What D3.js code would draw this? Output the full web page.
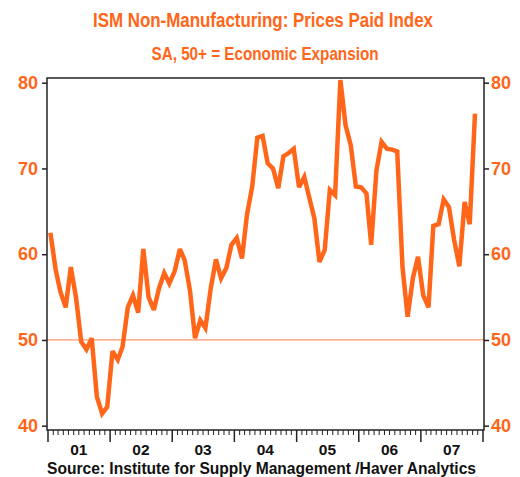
<!DOCTYPE html>
<html lang="en">
<head>
	<meta charset="UTF-8">
	<title>ISM Non-Manufacturing: Prices Paid Index</title>
	<script src="https://cdnjs.cloudflare.com/ajax/libs/d3/7.8.5/d3.min.js"></script>
	<style>
		html, body{
		  margin: 0;
		  padding: 0;
		  background: #fff;
		}
		svg{
		  display: block;
		  font-family: "Liberation Sans Narrow", "Liberation Sans", Arial, sans-serif;
		}
	</style>
</head>
<body>
	<div class="chartDiv"></div>

	<script>
		// monthly values, Jan 2001 .. Nov 2007
		var startYear = 2001;
		var values2001 = [62.5, 58.2, 55.6, 53.8, 58.5, 54.9, 49.8, 48.9, 50.2, 43.4, 41.4, 42.2];
		var values2002 = [48.7, 47.7, 49.2, 53.8, 55.2, 53.2, 60.6, 55.0, 53.5, 56.0, 57.8, 56.6];
		var values2003 = [58.0, 60.6, 59.3, 55.8, 50.2, 52.3, 51.4, 56.0, 59.4, 57.2, 58.4, 61.1];
		var values2004 = [61.9, 59.5, 64.6, 67.9, 73.6, 73.8, 70.6, 70.0, 67.7, 71.4, 71.8, 72.3];
		var values2005 = [67.8, 69.0, 66.7, 64.2, 59.1, 60.5, 67.5, 66.9, 80.3, 75.1, 72.7, 67.9];
		var values2006 = [67.8, 67.1, 61.1, 69.8, 73.1, 72.3, 72.2, 72.0, 58.5, 52.7, 57.2, 59.7];
		var values2007 = [55.2, 53.8, 63.3, 63.5, 66.4, 65.5, 61.7, 58.6, 66.1, 63.5, 76.4];

		var yTicks = [40, 50, 60, 70, 80];
		var yearLabels = ["01", "02", "03", "04", "05", "06", "07"];
		var expansionLevel = 50;

		var titleText = "ISM Non-Manufacturing: Prices Paid Index";
		var subtitleText = "SA, 50+ = Economic Expansion";
		var sourceText = "Source:  Institute for Supply Management /Haver Analytics";

		var orange = "#FF6619";

		function draw() {
		  var width = 520, height = 477;

		  var margin = {left: 47, right: 36, top: 78, bottom: 47};
		  var plotW = width - margin.left - margin.right;
		  var plotH = height - margin.top - margin.bottom;

		  // build the dated series
		  var allYears = [values2001, values2002, values2003, values2004, values2005, values2006, values2007];
		  var data = [];
		  allYears.forEach(function(arr, yi) {
			arr.forEach(function(v, m) {
			  data.push({date: new Date(startYear + yi, m, 15), value: v});
			});
		  });

		  var xScale = d3.scaleTime()
			.domain([new Date(startYear, 0, 1), new Date(startYear + yearLabels.length, 0, 1)])
			.range([margin.left + 1, margin.left + plotW - 1]);

		  var yScale = d3.scaleLinear()
			.domain([40, 80])
			.range([425.7, 82.7]);

		  var svg = d3.select(".chartDiv")
			.append("svg")
			.attr("width", width)
			.attr("height", height);

		  // titles
		  svg.append("text")
			.attr("x", 263)
			.attr("y", 27)
			.attr("text-anchor", "middle")
			.attr("textLength", 340)
			.attr("lengthAdjust", "spacingAndGlyphs")
			.style("font-size", "20px")
			.style("font-weight", "bold")
			.style("fill", orange)
			.text(titleText);

		  svg.append("text")
			.attr("x", 265)
			.attr("y", 60)
			.attr("text-anchor", "middle")
			.attr("textLength", 227)
			.attr("lengthAdjust", "spacingAndGlyphs")
			.style("font-size", "18px")
			.style("font-weight", "bold")
			.style("fill", orange)
			.text(subtitleText);

		  // 50 line
		  svg.append("line")
			.attr("x1", margin.left)
			.attr("x2", margin.left + plotW)
			.attr("y1", yScale(expansionLevel))
			.attr("y2", yScale(expansionLevel))
			.attr("stroke", "#FF9A70")
			.attr("stroke-width", 1.2);

		  // series
		  var line = d3.line()
			.x(d => xScale(d.date))
			.y(d => yScale(d.value));

		  svg.append("path")
			.datum(data)
			.attr("d", line)
			.attr("fill", "none")
			.attr("stroke", orange)
			.attr("stroke-width", 4.5)
			.attr("stroke-linejoin", "miter")
			.attr("stroke-miterlimit", 3);

		  // frame
		  svg.append("rect")
			.attr("x", margin.left)
			.attr("y", margin.top)
			.attr("width", plotW)
			.attr("height", plotH)
			.attr("fill", "none")
			.attr("stroke", "#222")
			.attr("stroke-width", 1.5);

		  // left + right axes
		  var yAxisL = svg.append("g")
			.attr("transform", "translate(" + margin.left + ",0)")
			.call(d3.axisLeft(yScale).tickValues(yTicks).tickSize(5).tickPadding(4));

		  var yAxisR = svg.append("g")
			.attr("transform", "translate(" + (margin.left + plotW) + ",0)")
			.call(d3.axisRight(yScale).tickValues(yTicks).tickSize(5).tickPadding(2));

		  [yAxisL, yAxisR].forEach(function(ax) {
			ax.select(".domain").remove();
			ax.selectAll(".tick line").attr("stroke", "#222").attr("stroke-width", 1.5);
			ax.selectAll(".tick text")
			  .style("font-size", "18px")
			  .style("font-weight", "bold")
			  .style("fill", orange);
		  });

		  // bottom axis: monthly minor ticks, yearly major ticks
		  var months = d3.timeMonth.range(new Date(startYear, 0, 1), new Date(startYear + yearLabels.length, 0, 2));
		  var xAxis = svg.append("g")
			.attr("transform", "translate(0," + (margin.top + plotH) + ")");

		  xAxis.selectAll(".mtick")
			.data(months)
			.enter()
			.append("line")
			.attr("class", "mtick")
			.attr("x1", d => xScale(d))
			.attr("x2", d => xScale(d))
			.attr("y1", 0)
			.attr("y2", d => d.getMonth() === 0 ? 12 : 5)
			.attr("stroke", "#222")
			.attr("stroke-width", d => d.getMonth() === 0 ? 1.5 : 1);

		  xAxis.selectAll(".ylab")
			.data(yearLabels)
			.enter()
			.append("text")
			.attr("class", "ylab")
			.attr("x", (d, i) => xScale(new Date(startYear + i, 6, 1)))
			.attr("y", 24.5)
			.attr("text-anchor", "middle")
			.style("font-size", "15.5px")
			.style("font-weight", "bold")
			.style("fill", "#111")
			.text(d => d);

		  svg.append("text")
			.attr("x", 47)
			.attr("y", 473.5)
			.attr("textLength", 429)
			.attr("lengthAdjust", "spacingAndGlyphs")
			.style("font-size", "16px")
			.style("font-weight", "bold")
			.style("fill", "#111")
			.text(sourceText);
		}

		draw();
	</script>
</body>
</html>
